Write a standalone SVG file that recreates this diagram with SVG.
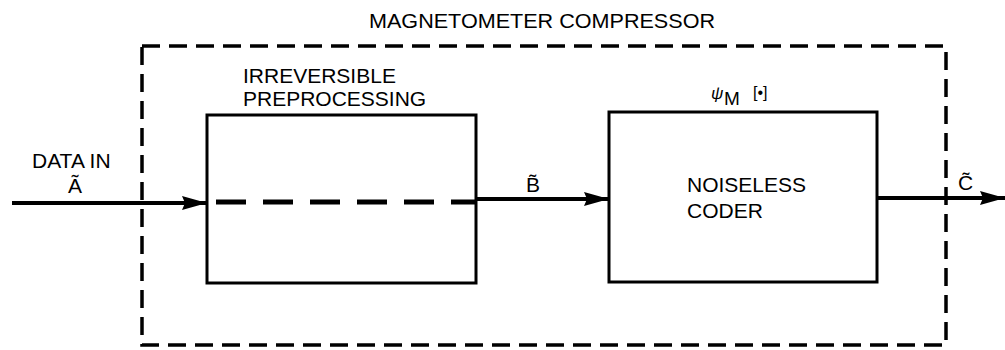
<svg xmlns="http://www.w3.org/2000/svg" width="1005" height="350" viewBox="0 0 1005 350">
<style>
text{font-family:"Liberation Sans",Arial,sans-serif;font-size:21px;fill:#000}
.box{fill:none;stroke:#000;stroke-width:3}
.outer{fill:none;stroke:#000;stroke-width:3.5;stroke-dasharray:18 9}
.wire{stroke:#000;stroke-width:4;fill:none}
.dash{stroke:#000;stroke-width:5;fill:none;stroke-dasharray:30 17;stroke-linecap:butt}
</style>
<defs>
<marker id="ah" markerUnits="userSpaceOnUse" markerWidth="26" markerHeight="14" refX="25" refY="7" orient="auto">
<polygon points="0,0 25,7 0,14 3,7" fill="#000"/>
</marker>
</defs>
<g id="compressor">
<rect class="outer" x="142" y="46" width="804" height="299"/>
<text x="369" y="28" textLength="346" lengthAdjust="spacingAndGlyphs">MAGNETOMETER COMPRESSOR</text>
</g>
<g id="preprocessing">
<rect class="box" x="207" y="115" width="269" height="168"/>
<text x="243" y="83">IRREVERSIBLE</text>
<text x="243" y="106">PREPROCESSING</text>
</g>
<g id="coder">
<rect class="box" x="609" y="112" width="268" height="170"/>
<text x="711" y="99" font-style="italic" style="font-size:17px">ψ</text>
<text x="724" y="105" style="font-size:19px">M</text>
<text x="753" y="98" style="font-size:16px">[•]</text>
<text x="687" y="192">NOISELESS</text>
<text x="687" y="218">CODER</text>
</g>
<g id="connectors">
<line class="wire" x1="12" y1="203" x2="207" y2="203" marker-end="url(#ah)"/>
<line class="dash" x1="216" y1="202" x2="476" y2="202" stroke-dasharray="30 17 30 17 30 17 30 17 30 17 30 0"/>
<line class="wire" x1="476" y1="199" x2="609" y2="199" marker-end="url(#ah)"/>
<line class="wire" x1="877" y1="198" x2="1005" y2="198" marker-end="url(#ah)"/>
</g>
<g id="labels">
<text x="32" y="168">DATA IN</text>
<text x="68" y="193">Ã</text>
<text x="526" y="192">B̃</text>
<text x="958" y="190">C̃</text>
</g>
</svg>
